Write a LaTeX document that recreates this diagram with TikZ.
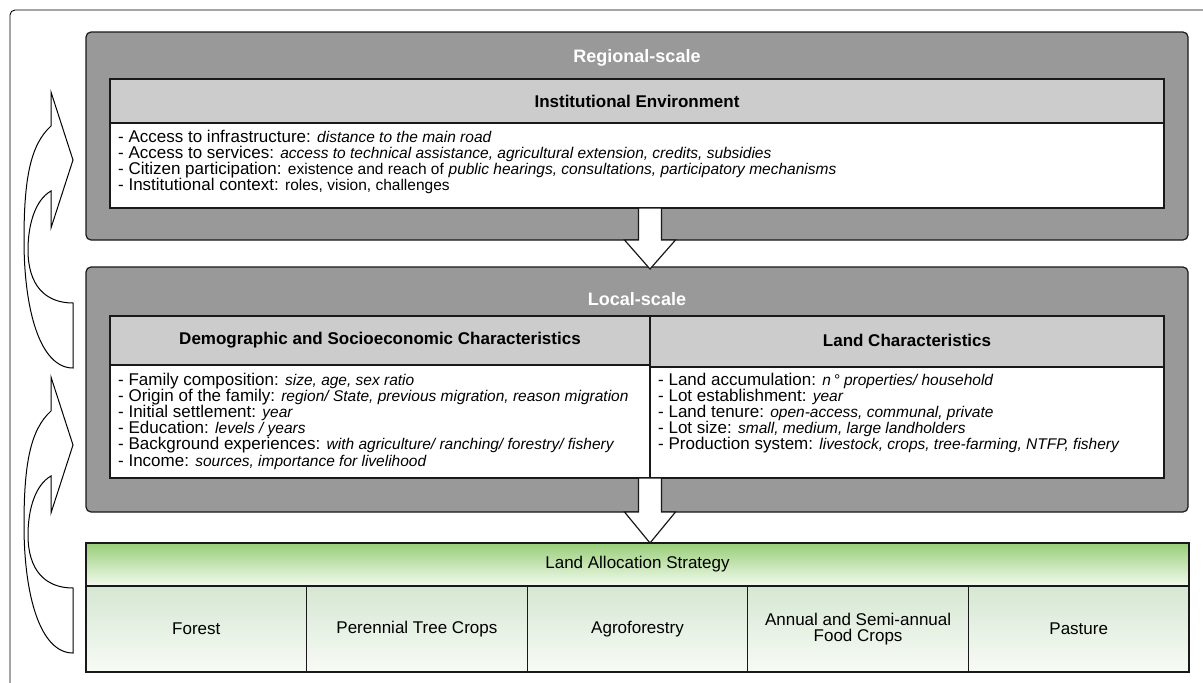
\documentclass[tikz,border=0pt]{standalone}
\usepackage{fontspec}
\setmainfont{Liberation Sans}
\usetikzlibrary{calc}
\definecolor{scalegray}{RGB}{153,153,153}
\definecolor{hdrgray}{RGB}{204,204,204}
\definecolor{greentop}{RGB}{152,206,120}
\definecolor{greenbot}{RGB}{243,250,239}
\definecolor{celltop}{RGB}{213,231,210}
\definecolor{cellbot}{RGB}{248,251,246}
\definecolor{edge}{RGB}{25,25,25}
\newcommand{\itx}[1]{{\fontsize{15.5}{16}\selectfont\itshape #1}}
\newcommand{\smx}[1]{{\fontsize{15.5}{16}\selectfont #1}}
\begin{document}
\begin{tikzpicture}[x=1pt,y=-1pt,
  bx/.style={draw=edge, line width=1.2pt, inner sep=0pt, outer sep=0pt, anchor=north west},
  scalebox/.style={bx, fill=scalegray, rounded corners=5pt},
  hdr/.style={bx, fill=hdrgray},
  cnt/.style={bx, fill=white},
  gbox/.style={bx, top color=greentop, bottom color=greenbot},
  cellbox/.style={bx, top color=celltop, bottom color=cellbot, minimum width=220.6pt, minimum height=86pt},
  titletext/.style={text=white, font=\fontsize{18}{18}\selectfont\bfseries},
  htext/.style={font=\fontsize{17}{17}\selectfont\bfseries},
  bodyline/.style={anchor=base west, inner sep=0pt, font=\fontsize{17}{16}\selectfont},
  glabel/.style={font=\fontsize{17}{16}\selectfont, align=center},
  blockarr/.style={draw=edge, line width=1.2pt, fill=white, line join=miter},
  uarrow/.style={draw=black, line width=1pt},
  uturn/.pic={
    \draw[uarrow] (73,143) .. controls (45,143) and (28,125) .. (28,90)
      .. controls (28,65) and (35,40) .. (51,31) -- (51,68) -- (73,0) -- (51,-68) -- (51,-34)
      .. controls (30,-15) and (24,20) .. (24,80)
      .. controls (24,150) and (40,208) .. (73,208) -- cycle;
  }
]
\path[use as bounding box] (0,0) rectangle (1203,683);
\clip (0,0) rectangle (1203,683);
\fill[white] (0,0) rectangle (1203,683);
% outer frame
\draw[line width=0.9pt, rounded corners=5pt] (10,10) rectangle (1260,740);

% regional scale
\node[scalebox, minimum width=1102pt, minimum height=208pt] (regional) at (86,32) {};
\node[titletext] (regt) at (637,58) {Regional-scale};
\node[hdr, minimum width=1054pt, minimum height=44pt] (insth) at (110,79) {};
\node[cnt, minimum width=1054pt, minimum height=85pt] (instc) at (110,123) {};
\node[htext] (insttitle) at (insth.center) {Institutional Environment};
\node[bodyline] (i1) at (118,142.5) {- Access to infrastructure: \itx{distance to the main road}};
\node[bodyline] (i2) at (118,158.6) {- Access to services: \itx{access to technical assistance, agricultural extension, credits, subsidies}};
\node[bodyline] (i3) at (118,174.7) {- Citizen participation: \smx{existence and reach of} \itx{public hearings, consultations, participatory mechanisms}};
\node[bodyline] (i4) at (118,190.8) {- Institutional context: \smx{roles, vision, challenges}};

% local scale
\node[scalebox, minimum width=1102pt, minimum height=245pt] (local) at (86,267) {};
\node[titletext] (loct) at (637,299) {Local-scale};
\node[hdr, minimum width=540pt, minimum height=49pt] (demoh) at (110,316) {};
\node[cnt, minimum width=540pt, minimum height=113pt] (democ) at (110,365) {};
\node[hdr, minimum width=514pt, minimum height=51pt] (landh) at (650,316) {};
\node[cnt, minimum width=514pt, minimum height=111pt] (landc) at (650,367) {};
\node[htext] (demotitle) at (demoh.center) {Demographic and Socioeconomic Characteristics};
\node[htext] (landtitle) at ([yshift=1pt]landh.center) {Land Characteristics};

\node[bodyline] (d1) at (118,385) {- Family composition: \itx{size, age, sex ratio}};
\node[bodyline] (d2) at (118,401.2) {- Origin of the family: \itx{region/ State, previous migration, reason migration}};
\node[bodyline] (d3) at (118,417.4) {- Initial settlement: \itx{year}};
\node[bodyline] (d4) at (118,433.6) {- Education: \itx{levels / years}};
\node[bodyline] (d5) at (118,449.8) {- Background experiences: \itx{with agriculture/ ranching/ forestry/ fishery}};
\node[bodyline] (d6) at (118,466) {- Income: \itx{sources, importance for livelihood}};

\node[bodyline] (l1) at (658,385) {- Land accumulation: \itx{n\,° properties/ household}};
\node[bodyline] (l2) at (658,401.2) {- Lot establishment: \itx{year}};
\node[bodyline] (l3) at (658,417.4) {- Land tenure: \itx{open-access, communal, private}};
\node[bodyline] (l4) at (658,433.6) {- Lot size: \itx{small, medium, large landholders}};
\node[bodyline] (l5) at (658,449.8) {- Production system: \itx{livestock, crops, tree-farming, NTFP, fishery}};

% land allocation strategy
\node[gbox, minimum width=1103pt, minimum height=43pt] (lash) at (86,543) {};
\node[glabel] (lastitle) at (lash.center) {Land Allocation Strategy};
\node[cellbox] (c1) at (86,586) {};
\node[cellbox] (c2) at (306.6,586) {};
\node[cellbox] (c3) at (527.2,586) {};
\node[cellbox] (c4) at (747.8,586) {};
\node[cellbox] (c5) at (968.4,586) {};
\node[glabel] (t1) at (c1.center) {Forest};
\node[glabel] (t2) at (c2.center) {Perennial Tree Crops};
\node[glabel] (t3) at (c3.center) {Agroforestry};
\node[glabel] (t4) at (c4.center) {Annual and Semi-annual\\Food Crops};
\node[glabel] (t5) at (c5.center) {Pasture};

% block arrows
\coordinate (a1s) at (instc.south -| democ.south east);
\coordinate (a1b) at (regional.south -| democ.south east);
\coordinate (a1t) at ($(local.north -| democ.south east)+(0,2)$);
\draw[blockarr] ($(a1s)+(-11.5,0)$) -- ($(a1b)+(-11.5,0)$) -- ($(a1b)+(-25.5,0)$) -- (a1t)
  -- ($(a1b)+(25.5,0)$) -- ($(a1b)+(11.5,0)$) -- ($(a1s)+(11.5,0)$) -- cycle;
\coordinate (a2s) at (democ.south east);
\coordinate (a2b) at (local.south -| democ.south east);
\coordinate (a2t) at (lash.north -| democ.south east);
\draw[blockarr] ($(a2s)+(-11.5,0)$) -- ($(a2b)+(-11.5,0)$) -- ($(a2b)+(-25.5,0)$) -- (a2t)
  -- ($(a2b)+(25.5,0)$) -- ($(a2b)+(11.5,0)$) -- ($(a2s)+(11.5,0)$) -- cycle;

% curved feedback arrows
\pic (ua) at (0,160) {uturn};
\pic (ub) at (0,445) {uturn};
\end{tikzpicture}
\end{document}
